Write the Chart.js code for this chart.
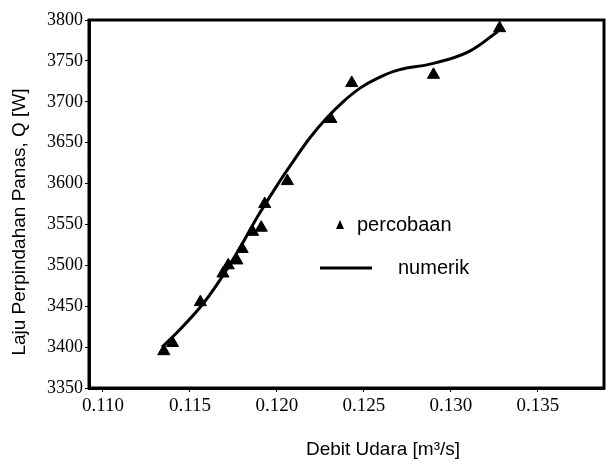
<!DOCTYPE html>
<html>
<head>
<meta charset="utf-8">
<script src="https://cdn.jsdelivr.net/npm/chart.js@4/dist/chart.umd.min.js"></script>
<style>
  html, body { margin: 0; padding: 0; background: #fff; }
  #wrap { width: 612px; height: 473px; }
</style>
</head>
<body>
<div id="wrap"><canvas id="grafik" width="612" height="473"></canvas></div>
<script>
// data percobaan (segitiga)
const debitPercobaan = [0.1135, 0.1140, 0.1156, 0.1169, 0.1172, 0.1177, 0.1180, 0.1186, 0.1191, 0.1193, 0.1206, 0.1231, 0.1243, 0.1290, 0.1328];
const qPercobaan = [3395, 3405, 3455, 3490, 3500, 3506, 3520, 3541, 3546, 3575, 3603, 3679, 3723, 3733, 3790];

// kurva numerik
const debitNumerik = [0.1134, 0.1144, 0.1156, 0.1166, 0.1177, 0.1189, 0.1202, 0.1209, 0.1219, 0.1229, 0.1238, 0.1248, 0.1258, 0.1270, 0.1290, 0.1310, 0.1327];
const qNumerik = [3400, 3421, 3449, 3478, 3515, 3560, 3604, 3626, 3656, 3681, 3700, 3717, 3729, 3739, 3747, 3761, 3786];

// label sumbu
const xTicks = [0.110, 0.115, 0.120, 0.125, 0.130, 0.135];
const yTicks = [3350, 3400, 3450, 3500, 3550, 3600, 3650, 3700, 3750, 3800];

const fontSerif = "'Liberation Serif', 'Times New Roman', serif";
const fontSans = "'Liberation Sans', Arial, sans-serif";

const kotakPlugin = {
  id: 'kotak',
  afterDatasetsDraw(chart) {
    const { ctx, chartArea: a } = chart;
    ctx.save();
    ctx.strokeStyle = '#000';
    ctx.lineWidth = 3;
    ctx.strokeRect(a.left, a.top, a.right - a.left, a.bottom - a.top);
    ctx.restore();
  }
};

// legenda dan judul sumbu
const teksPlugin = {
  id: 'teks',
  afterDraw(chart) {
    const { ctx, chartArea: a } = chart;
    const x0 = a.left + 251, y1 = a.top + 205, y2 = a.top + 248;
    ctx.save();
    ctx.fillStyle = '#000';
    ctx.beginPath();
    ctx.moveTo(x0, y1 - 5);
    ctx.lineTo(x0 + 4, y1 + 4);
    ctx.lineTo(x0 - 4, y1 + 4);
    ctx.closePath();
    ctx.fill();
    ctx.font = '20px ' + fontSans;
    ctx.textBaseline = 'middle';
    ctx.fillText('percobaan', x0 + 17, y1);
    ctx.lineWidth = 3;
    ctx.beginPath();
    ctx.moveTo(x0 - 20, y2);
    ctx.lineTo(x0 + 32, y2);
    ctx.stroke();
    ctx.fillText('numerik', x0 + 58, y2);

    // judul sumbu x
    ctx.font = '19px ' + fontSans;
    ctx.textAlign = 'center';
    ctx.fillText('Debit Udara [m³/s]', 383, 450);

    // judul sumbu y
    ctx.translate(20, 222);
    ctx.rotate(-Math.PI / 2);
    ctx.fillText('Laju Perpindahan Panas, Q [W]', 0, 0);
    ctx.restore();
  }
};

const ctx = document.getElementById('grafik').getContext('2d');
const grafik = new Chart(ctx, {
  type: 'scatter',
  data: {
    datasets: [{
      label: 'numerik',
      type: 'line',
      data: debitNumerik.map((d, i) => ({ x: d, y: qNumerik[i] })),
      borderColor: '#000',
      borderWidth: 3,
      pointRadius: 0,
      tension: 0.4,
      fill: false
    }, {
      label: 'percobaan',
      data: debitPercobaan.map((d, i) => ({ x: d, y: qPercobaan[i] })),
      pointStyle: 'triangle',
      pointRadius: 7,
      backgroundColor: '#000',
      borderColor: '#000'
    }]
  },
  options: {
    responsive: false,
    animation: false,
    layout: { padding: { left: 0, right: 8, top: 20, bottom: 0 } },
    plugins: {
      legend: { display: false },
      tooltip: { enabled: false }
    },
    scales: {
      x: {
        type: 'linear',
        min: 0.1092,
        max: 0.1388,
        afterFit(s) { s.height = 85; },
        afterBuildTicks(s) { s.ticks = xTicks.map(v => ({ value: v })); },
        grid: { drawOnChartArea: false, color: '#000', tickLength: 4 },
        border: { color: '#000', width: 3 },
        ticks: {
          color: '#000',
          padding: 3,
          font: { family: fontSerif, size: 19 },
          callback: v => v.toFixed(3)
        }
      },
      y: {
        min: 3350,
        max: 3800,
        afterFit(s) { s.width = 89; },
        afterBuildTicks(s) { s.ticks = yTicks.map(v => ({ value: v })); },
        grid: { drawOnChartArea: false, color: '#000', tickLength: 4 },
        border: { color: '#000', width: 3 },
        ticks: {
          color: '#000',
          padding: 2,
          font: { family: fontSerif, size: 18 },
          callback: v => String(v)
        }
      }
    }
  },
  plugins: [kotakPlugin, teksPlugin]
});
</script>
</body>
</html>
